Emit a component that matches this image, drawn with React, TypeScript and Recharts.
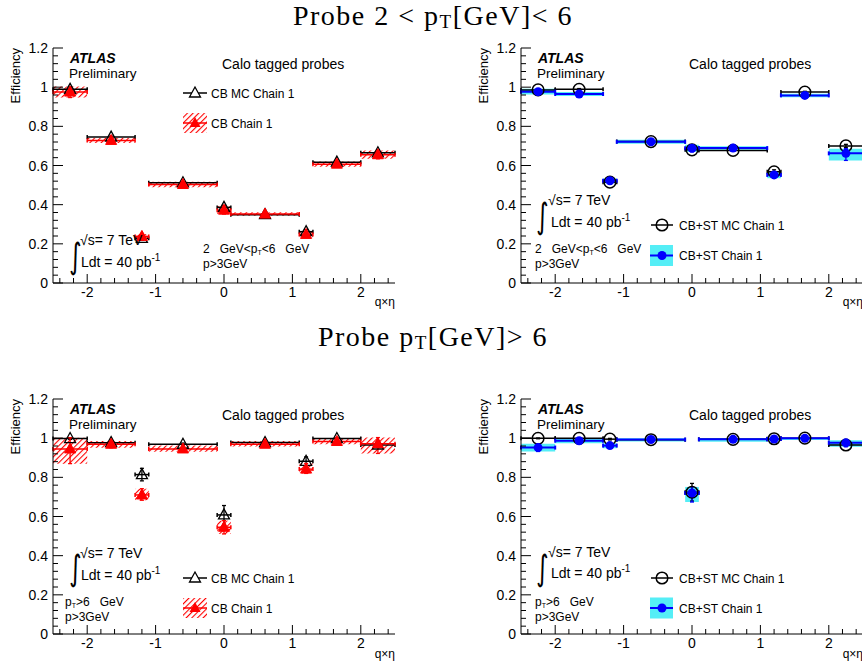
import React from 'react'
import { ComposedChart, Scatter, ErrorBar, XAxis, YAxis, ReferenceArea } from 'recharts'

// q x eta bins
const binLo = [-2.5, -2.0, -1.3, -1.1, -0.1, 0.1, 1.1, 1.3, 2.0]
const binHi = [-2.0, -1.3, -1.1, -0.1, 0.1, 1.1, 1.3, 2.0, 2.5]
const binCenter = [-2.25, -1.65, -1.2, -0.6, 0, 0.6, 1.2, 1.65, 2.25]

// 2 < pT < 6, CB
const cbLowMc = [0.989, 0.745, 0.228, 0.512, 0.386, 0.349, 0.262, 0.617, 0.665]
const cbLowMcErr = [0.006, 0.005, 0.01, 0.004, 0.008, 0.004, 0.01, 0.005, 0.008]
const cbLowData = [0.975, 0.728, 0.238, 0.503, 0.372, 0.352, 0.248, 0.607, 0.655]
const cbLowDataLo = [0.028, 0.013, 0.012, 0.014, 0.02, 0.009, 0.014, 0.013, 0.021]
const cbLowDataHi = [0.028, 0.013, 0.012, 0.014, 0.02, 0.009, 0.014, 0.013, 0.021]

// 2 < pT < 6, CB+ST
const stLowMc = [0.986, 0.989, 0.515, 0.722, 0.68, 0.677, 0.568, 0.975, 0.7]
const stLowMcErr = [0.004, 0.004, 0.01, 0.004, 0.006, 0.004, 0.01, 0.004, 0.008]
const stLowData = [0.977, 0.965, 0.522, 0.721, 0.688, 0.689, 0.552, 0.958, 0.662]
const stLowDataLo = [0.015, 0.01, 0.012, 0.01, 0.018, 0.009, 0.017, 0.009, 0.036]
const stLowDataHi = [0.015, 0.01, 0.012, 0.01, 0.018, 0.009, 0.017, 0.009, 0.024]

// pT > 6, CB
const cbHighMc = [0.998, 0.977, 0.814, 0.969, 0.608, 0.978, 0.882, 0.998, 0.965]
const cbHighMcErr = [0.004, 0.006, 0.032, 0.006, 0.048, 0.005, 0.022, 0.003, 0.012]
const cbHighData = [0.945, 0.969, 0.71, 0.945, 0.545, 0.969, 0.842, 0.983, 0.972]
const cbHighDataLo = [0.075, 0.018, 0.027, 0.014, 0.034, 0.012, 0.022, 0.014, 0.05]
const cbHighDataHi = [0.057, 0.017, 0.032, 0.017, 0.034, 0.017, 0.029, 0.017, 0.031]

// pT > 6, CB+ST
const stHighMc = [0.999, 0.999, 0.995, 0.992, 0.724, 0.994, 0.997, 1.0, 0.965]
const stHighMcErr = [0.002, 0.002, 0.004, 0.003, 0.045, 0.003, 0.003, 0.002, 0.006]
const stHighData = [0.952, 0.987, 0.962, 0.993, 0.72, 0.994, 0.996, 0.999, 0.976]
const stHighDataLo = [0.02, 0.013, 0.014, 0.01, 0.046, 0.012, 0.01, 0.008, 0.02]
const stHighDataHi = [0.02, 0.012, 0.012, 0.007, 0.031, 0.006, 0.004, 0.001, 0.014]

const xMajor = [-2, -1, 0, 1, 2]
const xTicks = Array.from({ length: 25 }, (_, k) => Number(((k - 12) * 0.2).toFixed(2)))
const yMajor = [0, 0.2, 0.4, 0.6, 0.8, 1, 1.2]
const yTicks = Array.from({ length: 31 }, (_, k) => Number((k * 0.04).toFixed(2)))

const FONT = '"Liberation Sans", Arial, Helvetica, sans-serif'
const RED = '#ff0000'
const BLUE = '#0000ff'
const CYAN = '#55eef6'

const isMajorX = (v: number) => xMajor.some((m) => Math.abs(m - v) < 1e-6)
const isMajorY = (v: number) => yMajor.some((m) => Math.abs(m - v) < 1e-6)

function rows(vals: number[], lo: number[], hi: number[]) {
  return binCenter.map((c, i) => ({ x: c, y: vals[i], ex: [c - binLo[i], binHi[i] - c], ey: [lo[i], hi[i]] }))
}

const BottomTick = (p: any) => {
  const major = isMajorX(p.payload.value)
  return (
    <g>
      <line x1={p.x} x2={p.x} y1={p.y} y2={p.y - (major ? 9 : 5)} stroke="#000" />
      {major && (
        <text x={p.x} y={p.y + 14} textAnchor="middle" fontSize={14} fontFamily={FONT} fill="#000">
          {p.payload.value}
        </text>
      )}
    </g>
  )
}
const TopTick = (p: any) => {
  const major = isMajorX(p.payload.value)
  return <line x1={p.x} x2={p.x} y1={p.y} y2={p.y + (major ? 9 : 5)} stroke="#000" />
}
const LeftTick = (p: any) => {
  const v = p.payload.value
  const major = isMajorY(v)
  return (
    <g>
      <line x1={p.x} x2={p.x + (major ? 10 : 5)} y1={p.y} y2={p.y} stroke="#000" />
      {major && (
        <text x={p.x - 5} y={p.y + 5} textAnchor="end" fontSize={14} fontFamily={FONT} fill="#000">
          {v === 0 || v === 1 ? String(v) : v.toFixed(1)}
        </text>
      )}
    </g>
  )
}
const RightTick = (p: any) => {
  const major = isMajorY(p.payload.value)
  return <line x1={p.x} x2={p.x - (major ? 10 : 5)} y1={p.y} y2={p.y} stroke="#000" />
}

const tri = (cx: number, cy: number) => `${cx},${cy - 6} ${cx - 5.5},${cy + 4} ${cx + 5.5},${cy + 4}`
const OpenTriangle = (p: any) => <polygon points={tri(p.cx, p.cy)} fill="none" stroke="#000" strokeWidth={1.3} />
const RedTriangle = (p: any) => <polygon points={tri(p.cx, p.cy)} fill={RED} stroke={RED} strokeWidth={1} />
const OpenCircle = (p: any) => <circle cx={p.cx} cy={p.cy} r={5.8} fill="none" stroke="#000" strokeWidth={1.5} />
const BlueDot = (p: any) => <circle cx={p.cx} cy={p.cy} r={4.5} fill={BLUE} />

interface PanelProps {
  left: number
  top: number
  kind: 'cb' | 'st'
  mc: number[]
  mcErr: number[]
  data: number[]
  dataLo: number[]
  dataHi: number[]
}

function Panel({ left, top, kind, mc, mcErr, data, dataLo, dataHi }: PanelProps) {
  const mcRows = rows(mc, mcErr, mcErr)
  const dataRows = rows(data, dataLo, dataHi)
  const dataColor = kind === 'cb' ? RED : BLUE
  return (
    <div style={{ position: 'absolute', left, top }}>
      <ComposedChart width={410} height={310} margin={{ top: 48, right: 15, bottom: 0, left: 0 }}>
        <XAxis dataKey="x" type="number" domain={[-2.5, 2.5]} ticks={xTicks} interval={0} tick={BottomTick}
          tickLine={false} tickSize={0} tickMargin={0} height={27} axisLine={{ stroke: '#000' }} allowDataOverflow />
        <XAxis xAxisId="top" orientation="top" type="number" domain={[-2.5, 2.5]} ticks={xTicks} interval={0} tick={TopTick}
          tickLine={false} tickSize={0} tickMargin={0} height={0} axisLine={{ stroke: '#000' }} allowDataOverflow />
        <YAxis dataKey="y" type="number" domain={[0, 1.2]} ticks={yTicks} interval={0} tick={LeftTick}
          tickLine={false} tickSize={0} tickMargin={0} width={53} axisLine={{ stroke: '#000' }} allowDataOverflow />
        <YAxis yAxisId="right" orientation="right" type="number" domain={[0, 1.2]} ticks={yTicks} interval={0} tick={RightTick}
          tickLine={false} tickSize={0} tickMargin={0} width={0} axisLine={{ stroke: '#000' }} allowDataOverflow />
        {dataRows.map((r, i) => (
          <ReferenceArea key={i} x1={binLo[i]} x2={binHi[i]} y1={r.y - dataLo[i]} y2={r.y + dataHi[i]}
            fill={kind === 'cb' ? 'url(#hatchRed)' : CYAN} fillOpacity={1} stroke="none" ifOverflow="hidden" />
        ))}
        <Scatter data={mcRows} dataKey="y" shape={kind === 'cb' ? OpenTriangle : OpenCircle} isAnimationActive={false}>
          <ErrorBar dataKey="ex" direction="x" width={2} stroke="#000" strokeWidth={1.5} isAnimationActive={false} />
          <ErrorBar dataKey="ey" direction="y" width={2} stroke="#000" strokeWidth={1.3} isAnimationActive={false} />
        </Scatter>
        <Scatter data={dataRows} dataKey="y" shape={kind === 'cb' ? RedTriangle : BlueDot} isAnimationActive={false}>
          <ErrorBar dataKey="ex" direction="x" width={2} stroke={dataColor} strokeWidth={kind === 'cb' ? 1.5 : 2} isAnimationActive={false} />
          <ErrorBar dataKey="ey" direction="y" width={2} stroke={dataColor} strokeWidth={1.3} isAnimationActive={false} />
        </Scatter>
      </ComposedChart>
    </div>
  )
}

const T = { fontFamily: FONT, fill: '#000' }

function Integral({ x, y }: { x: number; y: number }) {
  return <text x={x} y={y} fontSize={24} fontFamily="DejaVu Sans" fill="#000" transform={`translate(${x}, ${y}) scale(1, 1.45) translate(${-x}, ${-y})`}>∫</text>
}

function Lumi({ ix, iy, sx, sy, lx, ly }: { ix: number; iy: number; sx: number; sy: number; lx: number; ly: number }) {
  return (
    <g>
      <Integral x={ix} y={iy} />
      <text x={sx} y={sy} fontSize={14} {...T}>√s= 7 TeV</text>
      <text x={lx} y={ly} fontSize={14} {...T}>
        Ldt = 40 pb<tspan fontSize={10} dy={-6}>-1</tspan>
      </text>
    </g>
  )
}

function Header({ px, py, ey, qy, cx }: { px: number; py: number; ey: number; qy: number; cx: number }) {
  return (
    <g>
      <text x={px - 33} y={ey} fontSize={13} {...T} textAnchor="end" transform={`rotate(-90, ${px - 33}, ${ey})`}>Efficiency</text>
      <text x={px + 342} y={qy} fontSize={12} {...T} textAnchor="end">q×η</text>
      <text x={px + 17} y={py + 15} fontSize={14} fontWeight="bold" fontStyle="italic" {...T}>ATLAS</text>
      <text x={px + 16} y={py + 29.5} fontSize={13.5} {...T}>Preliminary</text>
      <text x={cx} y={py + 21} fontSize={14} {...T}>Calo tagged probes</text>
    </g>
  )
}

function LegendCB({ x, y1, y2 }: { x: number; y1: number; y2: number }) {
  return (
    <g>
      <line x1={x} x2={x + 24} y1={y1} y2={y1} stroke="#000" strokeWidth={1.5} />
      <polygon points={tri(x + 12, y1)} fill="#fff" stroke="#000" strokeWidth={1.3} />
      <text x={x + 28} y={y1 + 4.5} fontSize={12} {...T}>CB MC Chain 1</text>
      <rect x={x} y={y2 - 10} width={24} height={20} fill="url(#hatchRed)" />
      <line x1={x} x2={x + 24} y1={y2} y2={y2} stroke={RED} strokeWidth={1.5} />
      <polygon points={tri(x + 12, y2)} fill={RED} />
      <text x={x + 28} y={y2 + 4.5} fontSize={12} {...T}>CB Chain 1</text>
    </g>
  )
}

function LegendST({ x, y1, y2 }: { x: number; y1: number; y2: number }) {
  return (
    <g>
      <line x1={x + 1} x2={x + 23} y1={y1} y2={y1} stroke="#000" strokeWidth={1.5} />
      <circle cx={x + 12} cy={y1} r={5.8} fill="none" stroke="#000" strokeWidth={1.5} />
      <text x={x + 29} y={y1 + 4.5} fontSize={12} {...T}>CB+ST MC Chain 1</text>
      <rect x={x} y={y2 - 10.5} width={23} height={21} fill={CYAN} />
      <line x1={x} x2={x + 23} y1={y2} y2={y2} stroke={BLUE} strokeWidth={2} />
      <circle cx={x + 12} cy={y2} r={4.5} fill={BLUE} />
      <text x={x + 29} y={y2 + 4.5} fontSize={12} {...T}>CB+ST Chain 1</text>
    </g>
  )
}

function PtLow({ x, y }: { x: number; y: number }) {
  return (
    <g>
      <text x={x} y={y} fontSize={12} {...T} style={{ whiteSpace: 'pre' }}>
        2   GeV&lt;p<tspan fontSize={7} dy={2}>T</tspan><tspan dy={-2}>&lt;6   GeV</tspan>
      </text>
      <text x={x} y={y + 15} fontSize={12} {...T}>p&gt;3GeV</text>
    </g>
  )
}

function PtHigh({ x, y }: { x: number; y: number }) {
  return (
    <g>
      <text x={x} y={y} fontSize={12} {...T} style={{ whiteSpace: 'pre' }}>
        p<tspan fontSize={7} dy={2}>T</tspan><tspan dy={-2}>&gt;6   GeV</tspan>
      </text>
      <text x={x} y={y + 15} fontSize={12} {...T}>p&gt;3GeV</text>
    </g>
  )
}

const TITLE = { fontFamily: '"Liberation Serif", "Times New Roman", serif', fill: '#000', fontSize: 28, letterSpacing: 1.5 }

export default function App() {
  return (
    <div style={{ position: 'absolute', left: 0, top: 0, width: 862, height: 671, overflow: 'hidden', background: '#fff' }}>
      <svg width={0} height={0} style={{ position: 'absolute' }}>
        <defs>
          <pattern id="hatchRed" patternUnits="userSpaceOnUse" width={4} height={4} patternTransform="rotate(45)">
            <rect x={0} y={0} width={1.1} height={4} fill={RED} />
          </pattern>
        </defs>
      </svg>
      <Panel left={0} top={0} kind="cb" mc={cbLowMc} mcErr={cbLowMcErr} data={cbLowData} dataLo={cbLowDataLo} dataHi={cbLowDataHi} />
      <Panel left={468} top={0} kind="st" mc={stLowMc} mcErr={stLowMcErr} data={stLowData} dataLo={stLowDataLo} dataHi={stLowDataHi} />
      <Panel left={0} top={351} kind="cb" mc={cbHighMc} mcErr={cbHighMcErr} data={cbHighData} dataLo={cbHighDataLo} dataHi={cbHighDataHi} />
      <Panel left={468} top={351} kind="st" mc={stHighMc} mcErr={stHighMcErr} data={stHighData} dataLo={stHighDataLo} dataHi={stHighDataHi} />
      <svg width={862} height={671} style={{ position: 'absolute', left: 0, top: 0, pointerEvents: 'none' }}>
        <text x={433} y={25} textAnchor="middle" {...TITLE}>
          Probe 2 &lt; p<tspan fontSize={19} dy={3}>T</tspan><tspan dy={-3}>[GeV]&lt; 6</tspan>
        </text>
        <text x={433} y={346} textAnchor="middle" {...TITLE}>
          Probe p<tspan fontSize={19} dy={3}>T</tspan><tspan dy={-3}>[GeV]&gt; 6</tspan>
        </text>

        <Header px={53} py={48} ey={48} qy={306} cx={222} />
        <LegendCB x={183} y1={93} y2={123} />
        <Lumi ix={69} iy={268} sx={80} sy={245} lx={81} ly={267} />
        <PtLow x={203} y={253} />

        <Header px={521} py={48} ey={48} qy={306} cx={689} />
        <LegendST x={650} y1={225} y2={255.5} />
        <Lumi ix={536} iy={228} sx={548} sy={205} lx={551} ly={227} />
        <PtLow x={535} y={253} />

        <Header px={53} py={399} ey={399} qy={658} cx={222} />
        <LegendCB x={183} y1={578} y2={608} />
        <Lumi ix={69} iy={580} sx={80} sy={558} lx={81} ly={580} />
        <PtHigh x={65} y={606} />

        <Header px={521} py={399} ey={399} qy={658} cx={689} />
        <LegendST x={650} y1={578} y2={608} />
        <Lumi ix={536} iy={580} sx={548} sy={557} lx={551} ly={578} />
        <PtHigh x={535} y={606} />
      </svg>
    </div>
  )
}
